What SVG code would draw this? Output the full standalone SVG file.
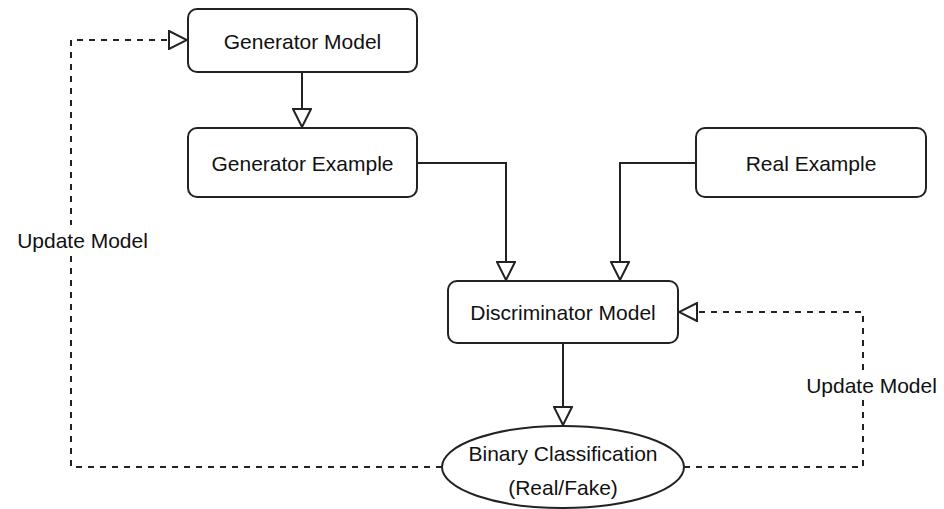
<svg xmlns="http://www.w3.org/2000/svg" width="944" height="509" viewBox="0 0 944 509">
<defs>
<marker id="tri" viewBox="0 0 20 20" refX="20" refY="10" markerWidth="20" markerHeight="20" markerUnits="userSpaceOnUse" orient="auto">
<path d="M1,1 L19,10 L1,19 Z" fill="#fff" stroke="#222" stroke-width="2" stroke-linejoin="miter"/>
</marker>
</defs>
<style>
.box{fill:#fff;stroke:#222;stroke-width:2}
.t{font-family:"Liberation Sans",Arial,sans-serif;font-size:21px;fill:#111;text-anchor:middle}
.c{fill:none;stroke:#222;stroke-width:2}
.d{stroke-dasharray:6 6}
</style>
<rect width="944" height="509" fill="#fff"/>
<g id="connectors">
<path class="c" d="M302,72 V128" marker-end="url(#tri)"/>
<path class="c" d="M417,163 H506 V281" marker-end="url(#tri)"/>
<path class="c" d="M696,163 H620 V281" marker-end="url(#tri)"/>
<path class="c" d="M563,343 V426" marker-end="url(#tri)"/>
<path class="c d" d="M442,467 H71 V40 H188" marker-end="url(#tri)"/>
<path class="c d" d="M684,467 H863 V312 H678" marker-end="url(#tri)"/>
<rect x="14" y="225" width="138" height="30" fill="#fff"/>
<text class="t" x="82.5" y="247.5">Update Model</text>
<rect x="803" y="370" width="138" height="30" fill="#fff"/>
<text class="t" x="871.5" y="392.5">Update Model</text>
</g>
<g id="generator-model">
<rect class="box" x="188" y="9" width="229" height="63" rx="9"/>
<text class="t" x="302.5" y="48.5">Generator Model</text>
</g>
<g id="generator-example">
<rect class="box" x="188" y="128" width="229" height="69" rx="9"/>
<text class="t" x="302.5" y="170.5">Generator Example</text>
</g>
<g id="real-example">
<rect class="box" x="696" y="128" width="230" height="69" rx="9"/>
<text class="t" x="811" y="170.5">Real Example</text>
</g>
<g id="discriminator-model">
<rect class="box" x="448" y="281" width="230" height="62" rx="9"/>
<text class="t" x="563" y="319.5">Discriminator Model</text>
</g>
<g id="binary-classification">
<ellipse class="box" cx="563" cy="467" rx="121" ry="41"/>
<text class="t" x="563" y="460.5">Binary Classification</text>
<text class="t" x="563" y="494.5">(Real/Fake)</text>
</g>
</svg>
